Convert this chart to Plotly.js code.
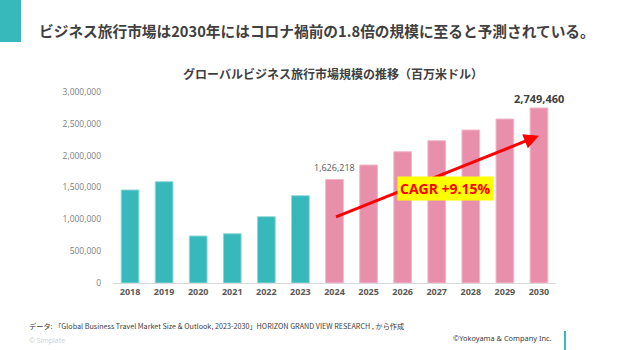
<!DOCTYPE html>
<html>
<head>
<meta charset="utf-8">
<script src="https://cdn.plot.ly/plotly-3.0.1.min.js"></script>
<style>
html,body{margin:0;padding:0;background:#fff;}
#chart{width:620px;height:350px;}
</style>
</head>
<body>
<div id="chart"></div>
<script>
// ---- data ----
const actualYears = ['2018','2019','2020','2021','2022','2023'];
const actualValues = [1461000, 1591000, 738000, 774000, 1041000, 1371000];
const forecastYears = ['2024','2025','2026','2027','2028','2029','2030'];
const forecastValues = [1626218, 1853000, 2062000, 2235000, 2403000, 2576000, 2749460];
const yTickValues = [0, 500000, 1000000, 1500000, 2000000, 2500000, 3000000];
const cagrLabel = 'CAGR +9.15%';
const arrowStart = {year: '2024', value: 1030000};
const arrowEnd = {year: '2030', value: 2313000};

const pageTitle = 'ビジネス旅行市場は2030年にはコロナ禍前の1.8倍の規模に至ると予測されている。';
const chartTitle = 'グローバルビジネス旅行市場規模の推移（百万米ドル）';
const sourceNote = 'データ: 「Global Business Travel Market Size & Outlook, 2023-2030」HORIZON GRAND VIEW RESEARCH , から作成';
const watermark = '© Simplate';
const copyright = '©Yokoyama & Company Inc.';

// ---- layout helpers ----
const W = 620, H = 350, L = 113, R = 64, T = 92, B = 67;
const pw = W - L - R, ph = H - T - B;
const px = x => (x - L) / pw;
const py = y => (H - B - y) / ph;

const teal = '#37B8BA';
const pink = '#E890AB';
const jp = '"Noto Sans CJK JP", "Noto Sans", sans-serif';
const num = '"Open Sans", "Noto Sans", sans-serif';

const fmt = v => v.toLocaleString('en-US');
const allYears = actualYears.concat(forecastYears);
const idx = y => allYears.indexOf(y);

const traces = [
  {
    type: 'bar', x: actualYears, y: actualValues,
    marker: {color: teal, line: {color: '#8fd9da', width: 1}},
    width: 0.52, hoverinfo: 'skip', showlegend: false
  },
  {
    type: 'bar', x: forecastYears, y: forecastValues,
    marker: {color: pink, line: {color: '#f2b8ca', width: 1}},
    width: 0.52, hoverinfo: 'skip', showlegend: false
  }
];

const firstF = forecastYears[0], lastF = forecastYears[forecastYears.length - 1];
const firstV = forecastValues[0], lastV = forecastValues[forecastValues.length - 1];

const layout = {
  width: W, height: H,
  margin: {l: L, r: R, t: T, b: B, pad: 0},
  paper_bgcolor: '#fff', plot_bgcolor: '#fff',
  barmode: 'overlay',
  title: {
    text: '<b>' + chartTitle + '</b>',
    font: {family: jp, size: 12, color: '#404040'},
    x: 333 / W, xanchor: 'center', xref: 'container',
    y: 1 - 75 / H, yanchor: 'middle', yref: 'container'
  },
  xaxis: {
    type: 'category',
    categoryorder: 'array', categoryarray: allYears,
    range: [-0.5, allYears.length - 0.5], autorange: false,
    showline: true, linecolor: '#d9d9d9', linewidth: 1,
    showgrid: false, zeroline: false, ticks: '',
    tickfont: {family: num, size: 9, color: '#595959', weight: 'bold'},
    fixedrange: true
  },
  yaxis: {
    range: [0, 3000000], autorange: false,
    tickvals: yTickValues, ticktext: yTickValues.map(fmt),
    showgrid: false, zeroline: false, showline: false, ticks: '',
    ticklabelstandoff: 11,
    tickfont: {family: num, size: 8.5, color: '#808080'},
    fixedrange: true
  },
  shapes: [
    {type: 'rect', xref: 'paper', yref: 'paper', x0: px(0), x1: px(21), y0: py(42), y1: py(0),
     fillcolor: teal, line: {width: 0}},
    {type: 'rect', xref: 'paper', yref: 'paper', x0: px(564), x1: px(566), y0: py(350), y1: py(331),
     fillcolor: teal, line: {width: 0}}
  ],
  annotations: [
    {xref: 'paper', yref: 'paper', x: px(37), y: py(30), xanchor: 'left', yanchor: 'middle',
     text: '<b>' + pageTitle + '</b>', showarrow: false,
     font: {family: jp, size: 14.7, color: '#404040'}},
    // arrow
    {xref: 'x', yref: 'y', axref: 'x', ayref: 'y',
     x: idx(arrowEnd.year), y: arrowEnd.value, ax: idx(arrowStart.year), ay: arrowStart.value,
     text: '', showarrow: true, arrowhead: 2, arrowsize: 1, arrowwidth: 3, arrowcolor: '#FF0000',
     standoff: 0, startstandoff: 0},
    // CAGR label
    {xref: 'paper', yref: 'paper', x: px(445), y: py(188), xanchor: 'center', yanchor: 'middle',
     text: '<b>' + cagrLabel + '</b>', showarrow: false, bgcolor: '#FFFF00', borderpad: 2,
     font: {family: num, size: 14, color: '#FF0000'}},
    // value labels
    {xref: 'x', yref: 'y', x: idx(firstF), y: firstV, yanchor: 'bottom', yshift: 3,
     text: fmt(firstV), showarrow: false,
     font: {family: num, size: 9, color: '#595959'}},
    {xref: 'x', yref: 'y', x: idx(lastF), y: lastV, yanchor: 'bottom', yshift: 0,
     text: '<b>' + fmt(lastV) + '</b>', showarrow: false,
     font: {family: num, size: 11, color: '#404040'}},
    // footer
    {xref: 'paper', yref: 'paper', x: px(27), y: py(326), xanchor: 'left', yanchor: 'middle',
     text: sourceNote, showarrow: false,
     font: {family: '"Liberation Sans Narrow", "Noto Sans CJK JP", sans-serif', size: 7.2, color: '#404040'}},
    {xref: 'paper', yref: 'paper', x: px(27), y: py(340), xanchor: 'left', yanchor: 'middle',
     text: watermark, showarrow: false,
     font: {family: num, size: 7, color: '#d0d0d0'}},
    {xref: 'paper', yref: 'paper', x: px(554), y: py(338), xanchor: 'right', yanchor: 'middle',
     text: copyright, showarrow: false,
     font: {family: '"Noto Sans", sans-serif', size: 7.4, color: '#404040'}}
  ]
};

Plotly.newPlot('chart', traces, layout, {displayModeBar: false, staticPlot: true});
</script>
</body>
</html>
